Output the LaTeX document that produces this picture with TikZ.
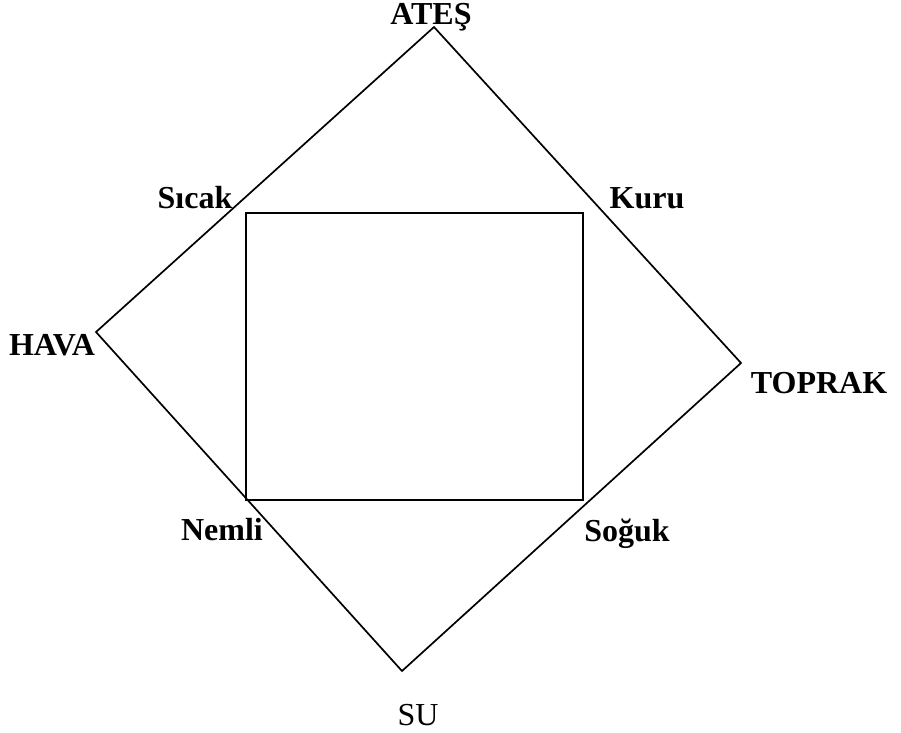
\documentclass[tikz,border=0pt]{standalone}
\usepackage{fontspec}
\setmainfont{Liberation Serif}
\begin{document}
\begin{tikzpicture}[x=1pt,y=-1pt,
  edge/.style={line width=1.7pt, line join=miter},
  lbl/.style={anchor=base, inner sep=0pt, font=\fontsize{32}{38}\selectfont\bfseries},
  lblr/.style={anchor=base, inner sep=0pt, font=\fontsize{32}{38}\selectfont}]
\useasboundingbox (0,0) rectangle (901,732);
% diamond vertices
\coordinate (top) at (434,27);
\coordinate (left) at (96,332);
\coordinate (right) at (741,363);
\coordinate (bot) at (402,671);
\draw[edge] (top) -- (right) -- (bot) -- (left) -- cycle;
% inner rectangle
\coordinate (r1) at (246,213);
\coordinate (r2) at (583,500);
\draw[edge] (r1) rectangle (r2);
% labels
\node[lbl] (ates) at (431,24) {ATEŞ};
\node[lbl] (hava) at (52,355) {HAVA};
\node[lbl] (toprak) at (819,393) {TOPRAK};
\node[lblr] (su) at (418,725) {SU};
\node[lbl] (sicak) at (195,208) {Sıcak};
\node[lbl] (kuru) at (647,208) {Kuru};
\node[lbl] (nemli) at (222,540) {Nemli};
\node[lbl] (soguk) at (627,541) {Soğuk};
\end{tikzpicture}
\end{document}
